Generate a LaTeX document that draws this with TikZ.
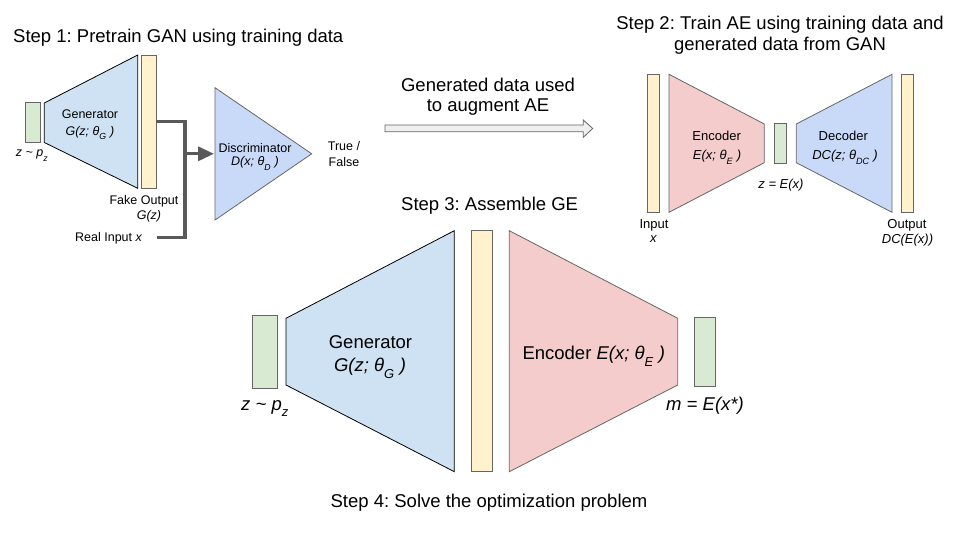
\documentclass[tikz,border=0pt]{standalone}
\usepackage{fontspec}
\setmainfont{Liberation Sans}
\usetikzlibrary{arrows.meta}
\frenchspacing
\definecolor{cgreen}{HTML}{D9EAD3}
\definecolor{cblue}{HTML}{CFE2F3}
\definecolor{cyel}{HTML}{FFF2CC}
\definecolor{cpink}{HTML}{F4CCCC}
\definecolor{cdisc}{HTML}{C9DAF8}
\definecolor{cedge}{HTML}{666666}
\definecolor{cline}{HTML}{595959}
\definecolor{carrow}{HTML}{EFEFEF}
\newcommand{\lsub}[1]{\raisebox{-0.4ex}{\textsubscript{#1}}}
\tikzset{
  big/.style={font=\fontsize{18.5bp}{22bp}\selectfont\frenchspacing, inner sep=0pt, anchor=base},
  sm/.style={font=\fontsize{12.5bp}{15bp}\selectfont, inner sep=0pt, anchor=base},
  md/.style={font=\fontsize{13bp}{15bp}\selectfont, inner sep=0pt, anchor=base},
  gray shape/.style={draw=cedge, line width=0.8bp, line join=miter},
  black shape/.style={draw=black, line width=0.8bp, line join=miter},
  conn/.style={draw=cline, line width=3.3bp},
}
\begin{document}
\begin{tikzpicture}[x=1bp,y=-1bp]
\useasboundingbox (0,0) rectangle (960,540);

% ---------------- Step 1 ----------------
\node[big, anchor=base west] (t1) at (13,43) {Step 1: Pretrain GAN using training data};
\draw[gray shape, fill=cgreen] (25,102.5) rectangle (40,142.5);
\draw[black shape, fill=cblue] (44.3,103) -- (137.7,55) -- (137.7,188.3) -- (44.3,142.5) -- cycle;
\draw[gray shape, fill=cyel] (141.7,55.7) rectangle (156,188.3);
\draw[gray shape, fill=cdisc] (215,87.7) -- (311.7,153.8) -- (215,220) -- cycle;

\node[sm] (g1a) at (90,118.8) {Generator};
\node[sm] (g1b) at (90,135.3) {\itshape G(z; θ\lsub{G} )};
\node[sm] (z1) at (32,157) {\itshape z \textasciitilde{} p\lsub{z}};
\node[sm] (d1a) at (255,152.3) {Discriminator};
\node[sm] (d1b) at (255,166) {\itshape D(x; θ\lsub{D} )};
\node[sm] (tf1) at (344,151) {True /};
\node[sm] (tf2) at (344,166.7) {False};
\node[sm] (fo1) at (144,205) {Fake Output};
\node[sm] (fo2) at (149,219.3) {\itshape G(z)};
\node[sm, anchor=base west] (ri) at (75,241.7) {Real Input \itshape x};

\coordinate (fo) at (156,121.7);
\coordinate (rie) at (156.7,237.3);
\coordinate (j) at (185,153.8);
\coordinate (dw) at (214,153.8);
\draw[conn] (fo) -| (j);
\draw[conn] (rie) -| (j);
\draw[conn, -{Triangle[length=16bp,width=14bp]}, draw=cline, fill=cline] (j) -- (dw);

% ---------------- middle arrow ----------------
\node[big] (m1) at (488,91.7) {Generated data used};
\node[big] (m2) at (488,111.7) {to augment AE};
\draw[gray shape, fill=carrow] (385,125) -- (583.3,125) -- (583.3,120) -- (592.7,128.5)
  -- (583.3,137.3) -- (583.3,131.7) -- (385,131.7) -- cycle;

% ---------------- Step 2 ----------------
\node[big] (t2a) at (780,30) {Step 2: Train AE using training data and};
\node[big] (t2b) at (780,50.5) {generated data from GAN};
\draw[gray shape, fill=cyel] (647.7,74.3) rectangle (659.3,212.3);
\draw[gray shape, fill=cpink] (669,74.3) -- (764.3,124) -- (764.3,162.7) -- (669,212.3) -- cycle;
\draw[gray shape, fill=cgreen] (774.3,123.3) rectangle (786.3,163.3);
\draw[gray shape, fill=cdisc] (796.3,124) -- (892,74.3) -- (892,212.3) -- (796.3,162.7) -- cycle;
\draw[gray shape, fill=cyel] (901.7,74.3) rectangle (913.3,212.3);

\node[md] (e2a) at (716.7,140.7) {Encoder};
\node[md] (e2b) at (717,160) {\itshape E(x; θ\lsub{E} )};
\node[md] (d2a) at (843.3,140.7) {Decoder};
\node[md] (d2b) at (845,160) {\itshape DC(z; θ\lsub{DC} )};
\node[md] (z2) at (781,188.3) {\itshape z = E(x)};
\node[md] (in2a) at (654,228.3) {Input};
\node[md] (in2b) at (653.3,242.7) {\itshape x};
\node[md] (out2a) at (907,228.3) {Output};
\node[md] (out2b) at (907.5,244) {\itshape DC(E(x))};

% ---------------- Step 3 ----------------
\node[big, anchor=base west] (t3) at (401,210.7) {Step 3: Assemble GE};
\draw[gray shape, fill=cgreen] (252.3,315.7) rectangle (277.3,388.3);
\draw[black shape, fill=cblue] (286,318.3) -- (454.3,230.7) -- (454.3,471.7) -- (286,385) -- cycle;
\draw[gray shape, fill=cyel] (471.7,230.7) rectangle (492.3,471.7);
\draw[gray shape, fill=cpink] (509.3,230.7) -- (677.7,318.3) -- (677.7,385) -- (509.3,471.7) -- cycle;
\draw[gray shape, fill=cgreen] (694,317) rectangle (715.3,386);

\node[big] (g3a) at (370.5,348.3) {Generator};
\node[big] (g3b) at (370,371.7) {\itshape G(z; θ\lsub{G} )};
\node[big] (e3) at (593.8,359.3) {Encoder \itshape E(x; θ\lsub{E} )};
\node[big] (z3) at (265,410) {\itshape z \textasciitilde{} p\lsub{z}};
\node[big] (m3) at (705,410) {\itshape m = E(x*)};

% ---------------- Step 4 ----------------
\node[big] (t4) at (489,507.3) {Step 4: Solve the optimization problem};
\end{tikzpicture}
\end{document}
